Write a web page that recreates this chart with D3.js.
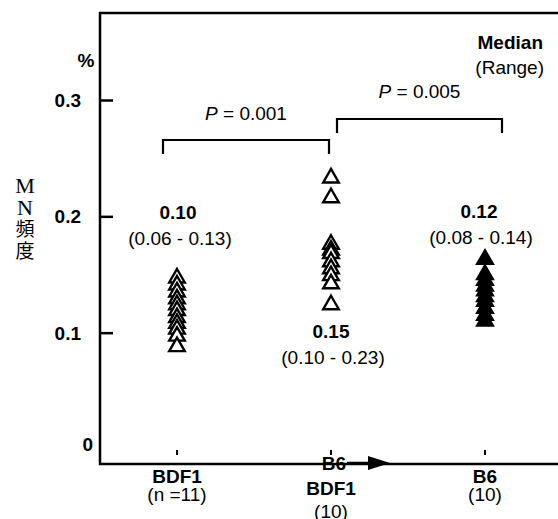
<!DOCTYPE html>
<html>
<head>
<meta charset="utf-8">
<script src="https://cdn.jsdelivr.net/npm/d3@7"></script>
<style>
  body { margin: 0; background: #fff; }
  text { font-family: "Liberation Sans", Arial, sans-serif; fill: #000; }
</style>
</head>
<body>
<div id="chart"></div>
<script>
// data
var groups = ["BDF1", "B6>BDF1", "B6"];
var groupLabels = [["BDF1", "(n =11)"], ["BDF1", "(10)"], ["B6", "(10)"]];
var bdf1 = [0.147, 0.141, 0.135, 0.129, 0.124, 0.119, 0.113, 0.108, 0.103, 0.097, 0.088];
var b6ToBdf1 = [0.233, 0.216, 0.176, 0.171, 0.168, 0.161, 0.155, 0.149, 0.142, 0.124];
var b6 = [0.163, 0.150, 0.145, 0.140, 0.136, 0.131, 0.127, 0.121, 0.115, 0.110];
var medians = ["0.10", "0.15", "0.12"];
var ranges = ["(0.06 - 0.13)", "(0.10 - 0.23)", "(0.08 - 0.14)"];
var pValues = ["0.001", "0.005"];
var yTicks = [0, 0.1, 0.2, 0.3];

var svgWidth = 558, svgHeight = 519;

var svg = d3.select("#chart").append("svg")
  .attr("width", svgWidth)
  .attr("height", svgHeight);

// scales
var x = d3.scalePoint().domain(groups).range([177, 485]);
var y = d3.scaleLinear().domain([0, 0.3]).range([449, 100]);

var axisLeft = 100, axisBottom = 464, frameTop = 13;

// frame: left, top, bottom lines
svg.append("path")
  .attr("d", `M${svgWidth},${frameTop}H${axisLeft}V${axisBottom}H${svgWidth}`)
  .attr("fill", "none")
  .attr("stroke", "#000")
  .attr("stroke-width", 2.5);

// y axis ticks (inward)
var yAxis = svg.append("g")
  .attr("transform", `translate(${axisLeft},0)`)
  .call(d3.axisLeft(y).tickValues(yTicks).tickSizeInner(-13).tickSizeOuter(0).tickPadding(19)
    .tickFormat(d => d === 0 ? "0" : d3.format(".1f")(d)));
yAxis.select(".domain").remove();
yAxis.selectAll(".tick line").attr("stroke-width", 2.5)
  .filter(d => d === 0).remove();
yAxis.selectAll(".tick text")
  .style("font-size", "19px")
  .style("font-weight", "bold")
  .attr("font-family", null)
  .attr("x", d => d === 0 ? -7 : -19)
  .attr("dy", d => d === 0 ? "0.1em" : "0.35em");

svg.append("text")
  .attr("x", 86).attr("y", 67)
  .attr("text-anchor", "middle")
  .style("font-size", "19px").style("font-weight", "bold")
  .text("%");

// y title, stacked vertically
var titleChars = ["M", "N", "頻", "度"];
svg.selectAll(".ytitle")
  .data(titleChars)
  .enter().append("text")
  .attr("class", "ytitle")
  .attr("x", 25)
  .attr("y", (d, i) => 193 + i * 21.5)
  .attr("text-anchor", "middle")
  .style("font-family", (d, i) => i < 2 ? "'Liberation Serif', serif" : "'Noto Sans CJK JP', sans-serif")
  .style("font-size", (d, i) => i < 2 ? "22px" : "19px")
  .text(d => d);

// small category ticks on x axis
svg.selectAll(".xtick")
  .data(groups)
  .enter().append("line")
  .attr("x1", d => x(d)).attr("x2", d => x(d))
  .attr("y1", 450).attr("y2", 455)
  .attr("stroke", "#000").attr("stroke-width", 2);

// triangles
var tri = d3.symbol().type(d3.symbolTriangle).size(105);
var series = [bdf1, b6ToBdf1, b6];
series.forEach(function(vals, i) {
  svg.selectAll(".pt" + i)
    .data(vals)
    .enter().append("path")
    .attr("class", "pt" + i)
    .attr("d", tri)
    .attr("transform", d => `translate(${x(groups[i])},${y(d)})`)
    .attr("fill", i === 2 ? "#000" : "#fff")
    .attr("stroke", "#000")
    .attr("stroke-width", 2.4);
});

// median / range labels
var labelPos = [[1, 219], [0, 338], [-6, 218]];
groups.forEach(function(g, i) {
  svg.append("text")
    .attr("x", x(g) + labelPos[i][0]).attr("y", labelPos[i][1])
    .attr("text-anchor", "middle")
    .style("font-size", "19px").style("font-weight", "bold")
    .text(medians[i]);
  svg.append("text")
    .attr("x", x(g) + labelPos[i][0] + 2).attr("y", labelPos[i][1] + 26)
    .attr("text-anchor", "middle")
    .style("font-size", "19px")
    .text(ranges[i]);
});

// legend
svg.append("text").attr("x", 543).attr("y", 49)
  .attr("text-anchor", "end")
  .style("font-size", "19px").style("font-weight", "bold")
  .text("Median");
svg.append("text").attr("x", 544).attr("y", 74)
  .attr("text-anchor", "end")
  .style("font-size", "19px")
  .text("(Range)");

// significance brackets
var brackets = [
  { x1: x(groups[0]) - 14, x2: x(groups[1]) - 2, top: 140, bottom: 154, ty: 120 },
  { x1: x(groups[1]) + 6, x2: x(groups[2]) + 17, top: 119, bottom: 133, ty: 98 }
];
brackets.forEach(function(b, i) {
  svg.append("path")
    .attr("d", `M${b.x1},${b.bottom}V${b.top}H${b.x2}V${b.bottom}`)
    .attr("fill", "none")
    .attr("stroke", "#000")
    .attr("stroke-width", 2.2);
  var t = svg.append("text")
    .attr("x", (b.x1 + b.x2) / 2).attr("y", b.ty)
    .attr("text-anchor", "middle")
    .style("font-size", "19px");
  t.append("tspan").style("font-style", "italic").text("P");
  t.append("tspan").text(" = " + pValues[i]);
});

// x category labels
groups.forEach(function(g, i) {
  var base = i === 1 ? 495 : 483;
  groupLabels[i].forEach(function(s, j) {
    svg.append("text")
      .attr("x", x(g)).attr("y", base + j * (i === 1 ? 23 : 18))
      .attr("text-anchor", "middle")
      .style("font-size", "19px")
      .style("font-weight", j === 0 ? "bold" : "normal")
      .text(s);
  });
});

// "B6 -> BDF1" transfer arrow on the middle group
svg.append("text")
  .attr("x", x(groups[1]) + 3).attr("y", 470)
  .attr("text-anchor", "middle")
  .style("font-size", "19px").style("font-weight", "bold")
  .text("B6");
svg.append("line")
  .attr("x1", x(groups[1]) + 16).attr("x2", x(groups[1]) + 40)
  .attr("y1", 463).attr("y2", 463)
  .attr("stroke", "#000").attr("stroke-width", 2.5);
svg.append("path")
  .attr("d", d3.line()([[x(groups[1]) + 37, 456], [x(groups[1]) + 59, 463], [x(groups[1]) + 37, 470]]) + "Z")
  .attr("fill", "#000");
</script>
</body>
</html>
